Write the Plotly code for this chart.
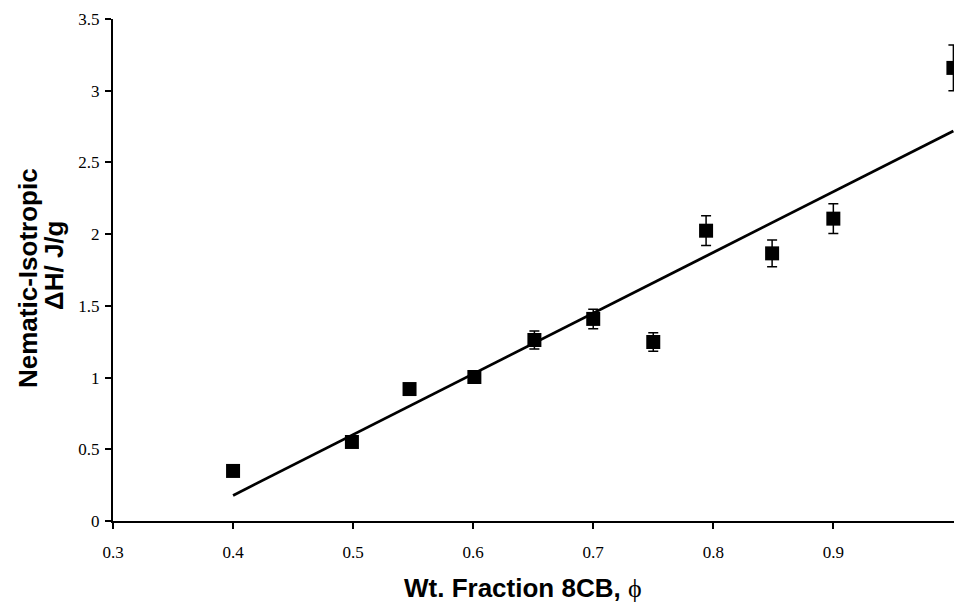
import numpy as np
import plotly.graph_objects as go

# Data
wt_fraction = [0.400, 0.499, 0.547, 0.601, 0.651, 0.700, 0.750, 0.794, 0.849, 0.900, 1.000]
delta_h = [0.349, 0.551, 0.920, 1.004, 1.262, 1.409, 1.248, 2.024, 1.866, 2.108, 3.159]
delta_h_err = [0.02, 0.02, 0.02, 0.03, 0.062, 0.068, 0.065, 0.104, 0.094, 0.104, 0.16]
x_ticks = [0.3, 0.4, 0.5, 0.6, 0.7, 0.8, 0.9]
x_tick_text = ["0.3", "0.4", "0.5", "0.6", "0.7", "0.8", "0.9"]
y_ticks = [0, 0.5, 1, 1.5, 2, 2.5, 3, 3.5]
y_tick_text = ["0", "0.5", "1", "1.5", "2", "2.5", "3", "3.5"]

# Linear least-squares trend line
slope, intercept = np.polyfit(wt_fraction, delta_h, 1)
fit_x = [min(wt_fraction), max(wt_fraction)]
fit_y = [slope * v + intercept for v in fit_x]

W, H = 954, 602
L, R, T, B = 113, 0, 19, 81
pw = W - L - R
ph = H - T - B

fig = go.Figure()
fig.add_trace(go.Scatter(
    x=fit_x, y=fit_y, mode="lines",
    line=dict(color="black", width=2.8),
    showlegend=False, hoverinfo="skip",
))
fig.add_trace(go.Scatter(
    x=wt_fraction, y=delta_h, mode="markers",
    marker=dict(symbol="square", size=14, color="black"),
    error_y=dict(type="data", array=delta_h_err, visible=True,
                 color="black", thickness=1.5, width=5),
    cliponaxis=False, showlegend=False,
))

axis_font = dict(family="Liberation Serif", size=17, color="black")
fig.update_layout(
    width=W, height=H,
    margin=dict(l=L, r=R, t=T, b=B, pad=0),
    paper_bgcolor="white", plot_bgcolor="white",
    xaxis=dict(
        range=[0.3, 1.0005],
        tickvals=x_ticks, ticktext=x_tick_text,
        showline=True, linecolor="black", linewidth=2,
        ticks="outside", ticklen=6, tickwidth=2, tickcolor="black",
        showgrid=False, zeroline=False, tickfont=axis_font,
        ticklabelstandoff=9,
    ),
    yaxis=dict(
        range=[0, 3.5],
        tickvals=y_ticks, ticktext=y_tick_text,
        showline=True, linecolor="black", linewidth=2,
        ticks="outside", ticklen=6, tickwidth=2, tickcolor="black",
        showgrid=False, zeroline=False, tickfont=axis_font,
        ticklabelstandoff=2,
    ),
)

title_font = dict(family="Liberation Sans", size=26, color="black")

def px_x(px):
    return (px - L) / pw

def px_y(py):
    return (H - B - py) / ph

fig.add_annotation(
    text="<b>Nematic-Isotropic</b>", textangle=-90,
    xref="paper", yref="paper", x=px_x(28), y=px_y(278),
    xanchor="center", yanchor="middle", showarrow=False, font=title_font,
)
fig.add_annotation(
    text="<b>ΔH/ J/g</b>", textangle=-90,
    xref="paper", yref="paper", x=px_x(54), y=px_y(266),
    xanchor="center", yanchor="middle", showarrow=False, font=title_font,
)
fig.add_annotation(
    text="<b>Wt. Fraction 8CB, </b><span style=\"font-family:'Liberation Serif'\">ϕ</span>",
    xref="paper", yref="paper", x=px_x(523), y=px_y(588),
    xanchor="center", yanchor="middle", showarrow=False, font=title_font,
)

fig.write_html("out.html")
